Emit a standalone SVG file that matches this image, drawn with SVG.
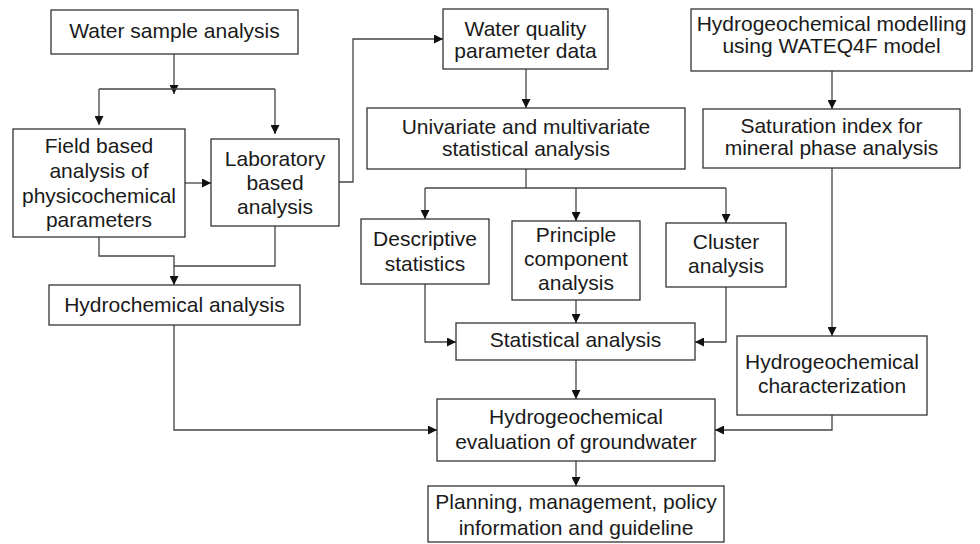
<svg xmlns="http://www.w3.org/2000/svg" width="980" height="544" viewBox="0 0 980 544">
<style>
.box{fill:#fff;stroke:#333;stroke-width:1.3}
.t{font-family:"Liberation Sans",Arial,sans-serif;font-size:21px;fill:#1a1a1a;text-anchor:middle}
.c{fill:none;stroke:#444;stroke-width:1.3}
</style>
<defs>
<marker id="ah" viewBox="0 0 10 10" refX="10" refY="5" markerWidth="9" markerHeight="9" markerUnits="userSpaceOnUse" orient="auto">
<path d="M0,0 L10,5 L0,10 z" fill="#111"/>
</marker>
</defs>
<rect width="980" height="544" fill="#fff"/>
<g id="connectors">
<path class="c" d="M174,54 V94" marker-end="url(#ah)"/>
<path class="c" d="M99,89 H275"/>
<path class="c" d="M99,89 V125" marker-end="url(#ah)"/>
<path class="c" d="M275,89 V134" marker-end="url(#ah)"/>
<path class="c" d="M185,183 H211" marker-end="url(#ah)"/>
<path class="c" d="M339,182 H353 V39 H443" marker-end="url(#ah)"/>
<path class="c" d="M526,69 V108" marker-end="url(#ah)"/>
<path class="c" d="M526,169 V188"/>
<path class="c" d="M425,188 H726"/>
<path class="c" d="M425,188 V219" marker-end="url(#ah)"/>
<path class="c" d="M576,188 V221" marker-end="url(#ah)"/>
<path class="c" d="M726,188 V223" marker-end="url(#ah)"/>
<path class="c" d="M425,284 V342 H456" marker-end="url(#ah)"/>
<path class="c" d="M576,300 V323" marker-end="url(#ah)"/>
<path class="c" d="M726,287 V342 H695" marker-end="url(#ah)"/>
<path class="c" d="M99,237 V256 H174 V285" marker-end="url(#ah)"/>
<path class="c" d="M275,226 V266 H174"/>
<path class="c" d="M174,325 V430 H437" marker-end="url(#ah)"/>
<path class="c" d="M832,71 V109" marker-end="url(#ah)"/>
<path class="c" d="M832,168 V336" marker-end="url(#ah)"/>
<path class="c" d="M832,415 V430 H715" marker-end="url(#ah)"/>
<path class="c" d="M576,360 V399" marker-end="url(#ah)"/>
<path class="c" d="M576,461 V486" marker-end="url(#ah)"/>
</g>
<g id="water-sample">
<rect class="box" x="51" y="10" width="247" height="44"/>
<text class="t" x="174.5" y="38">Water sample analysis</text>
</g>
<g id="field">
<rect class="box" x="13" y="129" width="172" height="108"/>
<text class="t" x="99" y="153">Field based</text>
<text class="t" x="99" y="178">analysis of</text>
<text class="t" x="99" y="203">physicochemical</text>
<text class="t" x="99" y="227">parameters</text>
</g>
<g id="lab">
<rect class="box" x="211" y="139" width="128" height="87"/>
<text class="t" x="275" y="166">Laboratory</text>
<text class="t" x="275" y="190">based</text>
<text class="t" x="275" y="214">analysis</text>
</g>
<g id="water-quality">
<rect class="box" x="443" y="9" width="165" height="60"/>
<text class="t" x="525.5" y="36">Water quality</text>
<text class="t" x="525.5" y="58">parameter data</text>
</g>
<g id="modelling">
<rect class="box" x="691" y="9" width="281" height="62"/>
<text class="t" x="831.5" y="31">Hydrogeochemical modelling</text>
<text class="t" x="831.5" y="53">using WATEQ4F model</text>
</g>
<g id="univariate">
<rect class="box" x="367" y="108" width="318" height="61"/>
<text class="t" x="526" y="134">Univariate and multivariate</text>
<text class="t" x="526" y="156">statistical analysis</text>
</g>
<g id="saturation">
<rect class="box" x="703" y="109" width="257" height="59"/>
<text class="t" x="831.5" y="133">Saturation index for</text>
<text class="t" x="831.5" y="155">mineral phase analysis</text>
</g>
<g id="descriptive">
<rect class="box" x="361" y="219" width="128" height="65"/>
<text class="t" x="425" y="246">Descriptive</text>
<text class="t" x="425" y="271">statistics</text>
</g>
<g id="principle">
<rect class="box" x="512" y="221" width="128" height="79"/>
<text class="t" x="576" y="242">Principle</text>
<text class="t" x="576" y="266">component</text>
<text class="t" x="576" y="290">analysis</text>
</g>
<g id="cluster">
<rect class="box" x="666" y="223" width="120" height="64"/>
<text class="t" x="726" y="249">Cluster</text>
<text class="t" x="726" y="273">analysis</text>
</g>
<g id="hydrochemical">
<rect class="box" x="49" y="285" width="251" height="40"/>
<text class="t" x="174.5" y="312">Hydrochemical analysis</text>
</g>
<g id="statistical">
<rect class="box" x="456" y="323" width="239" height="37"/>
<text class="t" x="575.5" y="347">Statistical analysis</text>
</g>
<g id="characterization">
<rect class="box" x="737" y="336" width="190" height="79"/>
<text class="t" x="832" y="369">Hydrogeochemical</text>
<text class="t" x="832" y="393">characterization</text>
</g>
<g id="evaluation">
<rect class="box" x="437" y="399" width="278" height="62"/>
<text class="t" x="576" y="424">Hydrogeochemical</text>
<text class="t" x="576" y="449">evaluation of groundwater</text>
</g>
<g id="planning">
<rect class="box" x="428" y="486" width="296" height="56"/>
<text class="t" x="576" y="509">Planning, management, policy</text>
<text class="t" x="576" y="535">information and guideline</text>
</g>
</svg>
